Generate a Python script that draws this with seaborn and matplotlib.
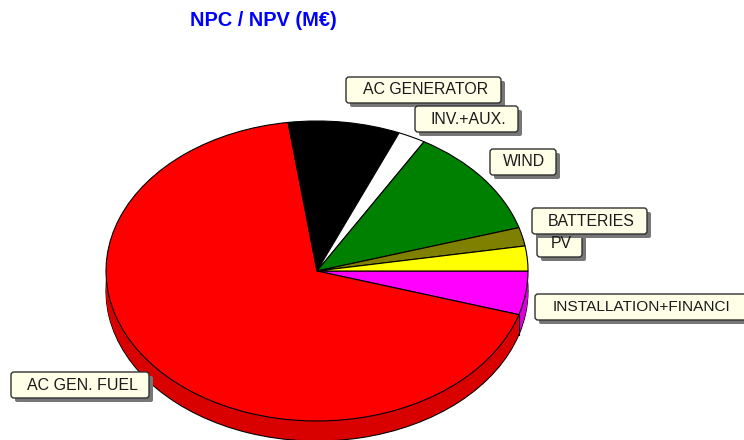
# -*- coding: utf-8 -*-
"""
NPC / NPV breakdown drawn as a tilted pie with label boxes
"""

import numpy as np
import matplotlib
matplotlib.use('Agg')
import matplotlib.pyplot as plt
from matplotlib.patches import FancyBboxPatch
import seaborn as sns

# Data, clockwise from 3 o'clock
labels = ['INSTALLATION+FINANCI', 'AC GEN. FUEL', 'AC GENERATOR', 'INV.+AUX.',
          'WIND', 'BATTERIES', 'PV']
values = [4.7, 68.1, 8.55, 2.1, 11.86, 2.0, 2.67]
title = 'NPC / NPV (M€)'

slice_colors = ['#ff00ff', '#ff0000', '#000000', '#ffffff',
                '#008000', '#808000', '#ffff00']

# Pie geometry in pixels of the 744x440 figure
W, H = 744, 440
CX, CY = 317, 271
RX, RY = 211, 150
DEPTH = 20

# Label boxes in pixels: left, top, right, bottom, text x, font size
# PV goes under BATTERIES
boxes = {'AC GENERATOR': (346, 77, 501, 103, 363, 11.4),
         'INV.+AUX.': (415, 106, 518, 132, 431, 11.4),
         'WIND': (490, 149, 556, 175, 503, 11.4),
         'PV': (537, 231, 582, 257, 551, 11.4),
         'BATTERIES': (532, 208, 647, 234, 548, 11.4),
         'INSTALLATION+FINANCI': (535, 294, 748, 320, 553, 11.1),
         'AC GEN. FUEL': (11, 372, 149, 398, 27, 11.5)}

sns.set_theme(style='white')
plt.rcParams['font.family'] = ['Liberation Sans', 'DejaVu Sans']

fig = plt.figure(figsize=(W / 100, H / 100), dpi=100, facecolor='white')

# Pie axes: one data unit is the radius, squashed into an ellipse
ax = fig.add_axes([0, 0, 1, 1])
top_colors = sns.color_palette(slice_colors)
side_colors = [tuple(np.array(c) * 0.85) for c in top_colors]

# Stack the side wall from the bottom up, only the lowest layer gets an outline
for d in range(DEPTH, 0, -1):
    edge = 'black' if d == DEPTH else 'none'
    ax.pie(values, colors=side_colors, startangle=0, counterclock=False,
           radius=1, center=(0, -d / RY), frame=True,
           wedgeprops={'edgecolor': edge, 'linewidth': 0.8})

# Separator on the wall where the first two slices meet
ang = -np.radians(values[0] / sum(values) * 360)
ax.plot([np.cos(ang), np.cos(ang)], [np.sin(ang), np.sin(ang) - DEPTH / RY],
        color='black', lw=0.8)

ax.pie(values, colors=top_colors, startangle=0, counterclock=False,
       radius=1, center=(0, 0), frame=True,
       wedgeprops={'edgecolor': 'black', 'linewidth': 0.8})
ax.set_aspect('auto')
ax.set_xlim(-CX / RX, (W - CX) / RX)
ax.set_ylim((CY - H) / RY, CY / RY)
ax.set_xticks([])
ax.set_yticks([])
ax.axis('off')

# Overlay axes in pixels for the label boxes and title
ov = fig.add_axes([0, 0, 1, 1])
ov.set_xlim(0, W)
ov.set_ylim(H, 0)
ov.axis('off')
ov.patch.set_alpha(0)

for name in boxes:
    x0, y0, x1, y1, tx, fs = boxes[name]
    shadow = FancyBboxPatch((x0 + 4, y0 + 4), x1 - x0, y1 - y0,
                            boxstyle='round,pad=0,rounding_size=2',
                            fc='#777777', ec='none')
    ov.add_patch(shadow)
    box = FancyBboxPatch((x0, y0), x1 - x0, y1 - y0,
                         boxstyle='round,pad=0,rounding_size=3',
                         fc='#ffffe8', ec='#303030', lw=1.0)
    ov.add_patch(box)
    ov.text(tx, (y0 + y1) / 2, name, fontsize=fs, color='#1a1a1a',
            ha='left', va='center')

ov.text(263, 20, title, fontsize=14.4, fontweight='bold', color='#0000ff',
        ha='center', va='center')

plt.savefig('out.png', dpi=100, facecolor='white')
